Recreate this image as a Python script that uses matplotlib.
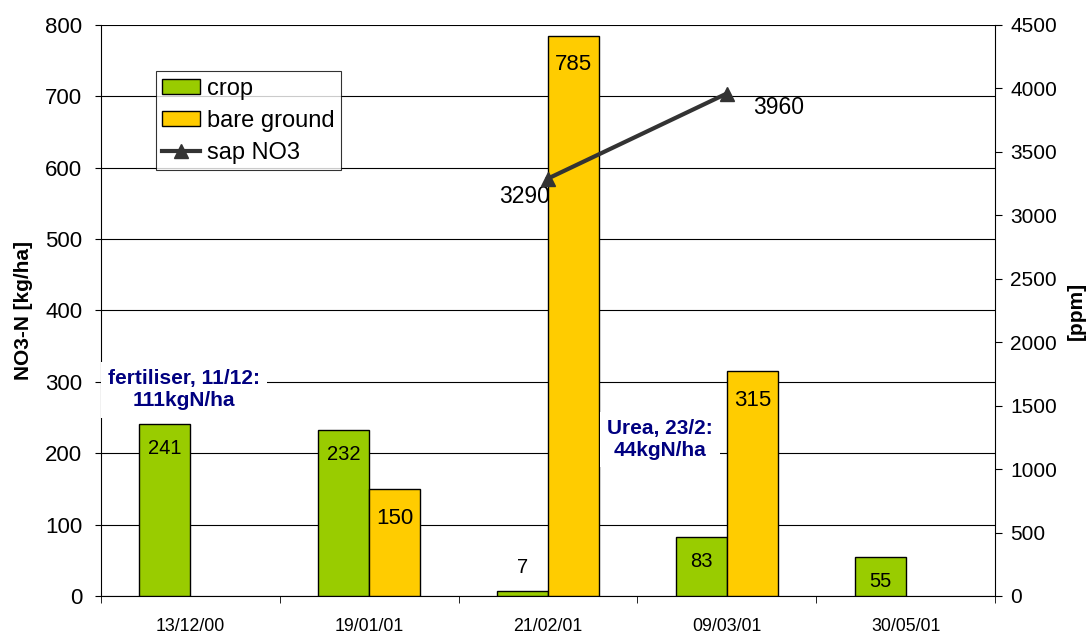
import matplotlib.pyplot as plt
import numpy as np

plt.rcParams['font.family'] = ['Liberation Sans', 'DejaVu Sans']

# Sampling dates and measured nitrate
dates = ['13/12/00', '19/01/01', '21/02/01', '09/03/01', '30/05/01']
crop = [241, 232, 7, 83, 55]
bare_ground = [np.nan, 150, 785, 315, np.nan]
sap_no3 = [np.nan, np.nan, 3290, 3960, np.nan]

fig = plt.figure(figsize=(10.9, 6.36), dpi=100)
ax = fig.add_axes([0.0927, 0.0629, 0.8201, 0.8978])
ax2 = ax.twinx()

x = np.arange(len(dates))
w = 0.285
crop_col = '#99CC00'
bare_col = '#FFCC00'

ax.bar(x - w / 2, crop, w, color=crop_col, edgecolor='black', linewidth=1, label='crop', zorder=3)
ax.bar(x + w / 2, bare_ground, w, color=bare_col, edgecolor='black', linewidth=1, label='bare ground', zorder=3)

# bar value labels, inside the top of each bar unless it is too short
for xi, v in zip(x - w / 2, crop):
    off = 17 if v < 30 else -17.5
    ax.annotate(f'{v}', (xi, v), textcoords='offset points', xytext=(0, off),
                ha='center', va='center', fontsize=14.5, zorder=5)
for xi, v in zip(x + w / 2, bare_ground):
    if np.isnan(v):
        continue
    ax.annotate(f'{v:.0f}', (xi, v), textcoords='offset points', xytext=(0, -21),
                ha='center', va='center', fontsize=16, zorder=5)

ax.set_ylim(0, 800)
ax.set_yticks(range(0, 801, 100))
ax.set_xlim(-0.5, len(dates) - 0.5)
ax.yaxis.grid(True, color='black', linewidth=0.8)
ax.set_axisbelow(True)
ax.set_ylabel('NO3-N [kg/ha]', fontsize=15, fontweight='bold', labelpad=9)

# category labels at centres, tick marks at the boundaries
ax.set_xticks(x)
ax.set_xticklabels(dates, fontsize=12.8)
ax.tick_params(axis='x', which='major', length=0, pad=16)
ax.set_xticks(np.arange(-0.5, len(dates), 1), minor=True)
ax.tick_params(axis='x', which='minor', length=5, direction='out')
ax.tick_params(axis='y', labelsize=16, length=4.5, pad=9)
for s in ['top', 'right']:
    ax.spines[s].set_visible(False)

ax2.plot(x, sap_no3, color='#333333', linewidth=3, marker='^', markersize=10, label='sap NO3', zorder=4)
ax2.annotate('3290', (x[2], sap_no3[2]), textcoords='offset points', xytext=(-17, -13),
             ha='center', va='center', fontsize=16.5)
ax2.annotate('3960', (x[3], sap_no3[3]), textcoords='offset points', xytext=(37, -10),
             ha='center', va='center', fontsize=16.5)
ax2.set_ylim(0, 4500)
ax2.set_yticks(range(0, 4501, 500))
ax2.tick_params(axis='y', labelsize=15, length=5, pad=6)
ax2.set_ylabel('[ppm]', fontsize=15, fontweight='bold', labelpad=7)
for s in ['top', 'left', 'bottom']:
    ax2.spines[s].set_visible(False)

# fertiliser notes, placed in kg/ha units
def kg(v):
    return v * 4500 / 800

note = dict(boxstyle='square,pad=0.35', facecolor='white', edgecolor='none')
ax2.text(-0.036, kg(289), 'fertiliser, 11/12:\n111kgN/ha', ha='center', va='center',
         fontsize=15, fontweight='bold', color='#000080', bbox=note, linespacing=1.2,
         clip_on=False, zorder=6)
ax2.text(2.627, kg(219), 'Urea, 23/2:\n44kgN/ha', ha='center', va='center',
         fontsize=15, fontweight='bold', color='#000080', bbox=note, linespacing=1.2,
         zorder=6)

h1, l1 = ax.get_legend_handles_labels()
h2, l2 = ax2.get_legend_handles_labels()
leg = ax2.legend(h1 + h2, l1 + l2, loc='upper left', bbox_to_anchor=(0.061, 0.919),
                 fontsize=17, frameon=True, fancybox=False, borderaxespad=0,
                 handlelength=1.6, handleheight=0.6, labelspacing=0.42, borderpad=0.28,
                 handletextpad=0.3)
leg.get_frame().set_edgecolor('black')
leg.get_frame().set_linewidth(0.8)
leg.set_zorder(7)

plt.savefig('out.png', dpi=100)
